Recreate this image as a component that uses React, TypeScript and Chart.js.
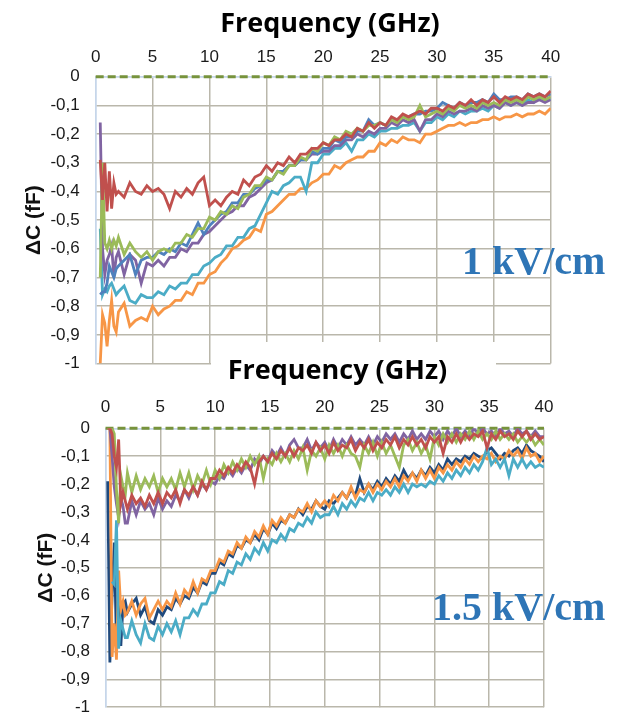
import { useEffect, useRef } from "react";
import { Chart, registerables } from "chart.js";

Chart.register(...registerables);

// ---------- DATA ----------
const FREQ_TOP = [
  0.4, 0.6, 0.8, 1.0, 1.2, 1.4, 1.6, 1.8,
  2, 2.5, 3, 3.5, 4, 4.5,
  5, 5.5, 6, 6.5, 7, 7.5, 8, 8.5, 9, 9.5,
  10, 10.5, 11, 11.5, 12, 12.5, 13, 13.5, 14, 14.5,
  15, 15.5, 16, 16.5, 17, 17.5, 18, 18.5, 19, 19.5,
  20, 20.5, 21, 21.5, 22, 22.5, 23, 23.5, 24, 24.5,
  25, 25.5, 26, 26.5, 27, 27.5, 28, 28.5, 29, 29.5,
  30, 30.5, 31, 31.5, 32, 32.5, 33, 33.5, 34, 34.5,
  35, 35.5, 36, 36.5, 37, 37.5, 38, 38.5, 39, 39.5,
  40,
];

const RED_TOP = [
  -0.29, -0.43, -0.30, -0.47, -0.33, -0.46, -0.37, -0.41,
  -0.40, -0.42, -0.37, -0.40, -0.41, -0.38,
  -0.40, -0.39, -0.41, -0.46, -0.40, -0.42, -0.39, -0.41, -0.37, -0.35,
  -0.45, -0.43, -0.45, -0.42, -0.40, -0.41, -0.36, -0.38, -0.35, -0.34,
  -0.31, -0.33, -0.30, -0.31, -0.28, -0.30, -0.27, -0.27, -0.25, -0.25,
  -0.23, -0.24, -0.22, -0.22, -0.20, -0.21, -0.18, -0.19, -0.16, -0.18,
  -0.16, -0.17, -0.14, -0.15, -0.13, -0.14, -0.13, -0.12, -0.13, -0.11,
  -0.11, -0.12, -0.10, -0.11, -0.09, -0.10, -0.08, -0.10, -0.08, -0.09,
  -0.07, -0.09, -0.07, -0.08, -0.07, -0.08, -0.06, -0.07, -0.06, -0.07,
  -0.05,
];

const GREEN_TOP = [
  -0.70, -0.30, -0.58, -0.60, -0.57, -0.60, -0.57, -0.59,
  -0.56, -0.62, -0.58, -0.61, -0.63, -0.61,
  -0.64, -0.61, -0.60, -0.61, -0.58, -0.58, -0.55, -0.56, -0.53, -0.53,
  -0.49, -0.50, -0.47, -0.48, -0.45, -0.46, -0.42, -0.41, -0.38, -0.38,
  -0.35, -0.36, -0.33, -0.34, -0.31, -0.31, -0.28, -0.29, -0.25, -0.26,
  -0.23, -0.24, -0.21, -0.22, -0.19, -0.20, -0.18, -0.19, -0.17, -0.17,
  -0.16, -0.17, -0.15, -0.16, -0.14, -0.15, -0.14, -0.10, -0.14, -0.13,
  -0.12, -0.13, -0.11, -0.12, -0.10, -0.11, -0.10, -0.11, -0.09, -0.10,
  -0.09, -0.10, -0.08, -0.09, -0.08, -0.09, -0.07, -0.08, -0.07, -0.08,
  -0.07,
];

const BLUE_TOP = [
  -0.76, -0.75, -0.75, -0.72, -0.66, -0.68, -0.70, -0.67,
  -0.66, -0.64, -0.62, -0.69, -0.64, -0.63,
  -0.63, -0.61, -0.62, -0.60, -0.61, -0.58, -0.59, -0.55, -0.51, -0.55,
  -0.52, -0.50, -0.48, -0.47, -0.44, -0.44, -0.41, -0.41, -0.39, -0.38,
  -0.36, -0.36, -0.33, -0.33, -0.31, -0.31, -0.29, -0.29, -0.26, -0.27,
  -0.25, -0.25, -0.22, -0.23, -0.21, -0.21, -0.19, -0.19, -0.15, -0.17,
  -0.16, -0.17, -0.15, -0.15, -0.14, -0.14, -0.13, -0.13, -0.12, -0.12,
  -0.11, -0.09, -0.10, -0.11, -0.09, -0.10, -0.09, -0.09, -0.08, -0.09,
  -0.06, -0.08, -0.08, -0.07, -0.07, -0.08, -0.06, -0.07, -0.06, -0.07,
  -0.06,
];

const PURPLE_TOP = [
  -0.16, -0.60, -0.69, -0.64, -0.62, -0.59, -0.70, -0.63,
  -0.61, -0.69, -0.62, -0.64, -0.72, -0.65,
  -0.66, -0.64, -0.66, -0.63, -0.63, -0.60, -0.61, -0.58, -0.58, -0.55,
  -0.54, -0.52, -0.50, -0.48, -0.47, -0.45, -0.45, -0.42, -0.41, -0.39,
  -0.37, -0.36, -0.33, -0.33, -0.31, -0.31, -0.29, -0.29, -0.27, -0.27,
  -0.26, -0.26, -0.24, -0.24, -0.22, -0.22, -0.20, -0.21, -0.19, -0.20,
  -0.18, -0.18, -0.16, -0.17, -0.15, -0.16, -0.15, -0.19, -0.15, -0.15,
  -0.13, -0.14, -0.12, -0.13, -0.12, -0.12, -0.11, -0.12, -0.10, -0.11,
  -0.10, -0.11, -0.09, -0.10, -0.09, -0.10, -0.09, -0.09, -0.08, -0.09,
  -0.08,
];

const CYAN_TOP = [
  -0.53, -0.76, -0.74, -0.75, -0.73, -0.72, -0.74, -0.76,
  -0.75, -0.73, -0.78, -0.79, -0.76, -0.77,
  -0.77, -0.75, -0.76, -0.73, -0.74, -0.72, -0.72, -0.69, -0.69, -0.66,
  -0.65, -0.63, -0.62, -0.59, -0.59, -0.56, -0.56, -0.53, -0.52, -0.48,
  -0.44, -0.40, -0.41, -0.38, -0.37, -0.35, -0.35, -0.40, -0.30, -0.30,
  -0.27, -0.27, -0.25, -0.25, -0.23, -0.26, -0.22, -0.22, -0.20, -0.21,
  -0.19, -0.19, -0.18, -0.18, -0.17, -0.17, -0.16, -0.19, -0.16, -0.16,
  -0.14, -0.15, -0.13, -0.14, -0.12, -0.13, -0.12, -0.12, -0.11, -0.12,
  -0.10, -0.11, -0.09, -0.10, -0.09, -0.10, -0.08, -0.09, -0.07, -0.08,
  -0.08,
];

const ORANGE_TOP = [
  -1.00, -0.83, -0.86, -0.94, -0.85, -0.78, -0.87, -0.89,
  -0.82, -0.79, -0.87, -0.85, -0.84, -0.85,
  -0.80, -0.83, -0.81, -0.80, -0.78, -0.78, -0.75, -0.76, -0.72, -0.72,
  -0.69, -0.68, -0.65, -0.63, -0.60, -0.59, -0.57, -0.56, -0.53, -0.54,
  -0.48, -0.47, -0.45, -0.43, -0.41, -0.41, -0.39, -0.39, -0.37, -0.36,
  -0.34, -0.34, -0.31, -0.32, -0.30, -0.29, -0.28, -0.28, -0.26, -0.26,
  -0.23, -0.24, -0.22, -0.23, -0.21, -0.22, -0.22, -0.23, -0.20, -0.20,
  -0.19, -0.18, -0.17, -0.17, -0.16, -0.17, -0.16, -0.16, -0.15, -0.15,
  -0.14, -0.15, -0.14, -0.14, -0.13, -0.14, -0.13, -0.13, -0.12, -0.13,
  -0.11,
];

const FREQ_BOT = [
  0.2, 0.4, 0.6, 0.8, 1.0, 1.2, 1.4, 1.6, 1.8,
  2.0, 2.4, 2.8, 3.2, 3.6, 4.0, 4.4, 4.8, 5.2, 5.6,
  6.0, 6.4, 6.8, 7.2, 7.6, 8.0, 8.4, 8.8, 9.2, 9.6,
  10.0, 10.4, 10.8, 11.2, 11.6, 12.0, 12.4, 12.8, 13.2, 13.6,
  14.0, 14.4, 14.8, 15.2, 15.6, 16.0, 16.4, 16.8, 17.2, 17.6,
  18.0, 18.4, 18.8, 19.2, 19.6, 20.0, 20.4, 20.8, 21.2, 21.6,
  22.0, 22.4, 22.8, 23.2, 23.6, 24.0, 24.4, 24.8, 25.2, 25.6,
  26.0, 26.4, 26.8, 27.2, 27.6, 28.0, 28.4, 28.8, 29.2, 29.6,
  30.0, 30.4, 30.8, 31.2, 31.6, 32.0, 32.4, 32.8, 33.2, 33.6,
  34.0, 34.4, 34.8, 35.2, 35.6, 36.0, 36.4, 36.8, 37.2, 37.6,
  38.0, 38.4, 38.8, 39.2, 39.6, 40.0,
];

const RED_BOT = [
  0, 0, -0.02, -0.10, -0.14, -0.04, -0.27, -0.23, -0.26,
  -0.29, -0.24, -0.27, -0.25, -0.28, -0.24, -0.27, -0.23, -0.27, -0.23,
  -0.25, -0.22, -0.27, -0.22, -0.24, -0.21, -0.24, -0.19, -0.22, -0.18,
  -0.18, -0.15, -0.17, -0.14, -0.16, -0.13, -0.15, -0.12, -0.14, -0.20,
  -0.12, -0.10, -0.12, -0.09, -0.11, -0.08, -0.10, -0.07, -0.10, -0.07,
  -0.08, -0.06, -0.09, -0.05, -0.08, -0.06, -0.09, -0.05, -0.08, -0.06,
  -0.07, -0.04, -0.08, -0.05, -0.07, -0.04, -0.08, -0.05, -0.07, -0.04,
  -0.06, -0.03, -0.07, -0.04, -0.06, -0.03, -0.06, -0.04, -0.07, -0.03,
  -0.05, -0.03, -0.09, -0.03, -0.05, -0.02, -0.05, -0.02, -0.04, -0.02,
  -0.03, -0.01, -0.07, -0.02, -0.04, -0.01, -0.03, -0.02, -0.04, -0.01,
  -0.03, -0.01, -0.04, -0.02, -0.04, -0.03,
];

const GREEN_BOT = [
  0, 0, 0, -0.02, -0.22, -0.34, -0.17, -0.21, -0.24,
  -0.16, -0.23, -0.17, -0.22, -0.18, -0.21, -0.17, -0.23, -0.18, -0.21,
  -0.18, -0.22, -0.16, -0.21, -0.16, -0.22, -0.17, -0.20, -0.15, -0.20,
  -0.15, -0.18, -0.13, -0.16, -0.12, -0.15, -0.11, -0.14, -0.10, -0.13,
  -0.10, -0.18, -0.11, -0.13, -0.09, -0.12, -0.09, -0.12, -0.08, -0.11,
  -0.07, -0.15, -0.08, -0.10, -0.07, -0.11, -0.06, -0.09, -0.06, -0.10,
  -0.06, -0.09, -0.10, -0.14, -0.06, -0.09, -0.05, -0.10, -0.05, -0.09,
  -0.06, -0.10, -0.14, -0.06, -0.04, -0.08, -0.05, -0.09, -0.06, -0.11,
  -0.03, -0.06, -0.02, -0.05, -0.02, -0.05, -0.02, -0.04, -0.01, -0.04,
  -0.01, -0.04, -0.02, -0.04, -0.01, -0.04, -0.02, -0.04, -0.02, -0.05,
  -0.03, -0.05, -0.03, -0.06, -0.04, -0.06,
];

const PURPLE_BOT = [
  0, 0, -0.10, -0.21, -0.27, -0.32, -0.25, -0.28, -0.34,
  -0.34, -0.26, -0.31, -0.26, -0.29, -0.27, -0.31, -0.25, -0.29, -0.26,
  -0.28, -0.24, -0.26, -0.22, -0.25, -0.21, -0.24, -0.20, -0.22, -0.19,
  -0.20, -0.17, -0.18, -0.15, -0.17, -0.14, -0.16, -0.13, -0.15, -0.11,
  -0.13, -0.10, -0.12, -0.08, -0.10, -0.07, -0.10, -0.06, -0.04, -0.07,
  -0.07, -0.04, -0.08, -0.05, -0.07, -0.05, -0.08, -0.04, -0.07, -0.04,
  -0.06, -0.03, -0.06, -0.04, -0.06, -0.03, -0.06, -0.03, -0.05, -0.02,
  -0.04, -0.02, -0.05, -0.02, -0.04, -0.01, -0.04, -0.02, -0.04, -0.01,
  -0.03, -0.01, -0.04, -0.01, -0.03, 0.00, -0.03, -0.01, -0.03, 0.00,
  -0.02, 0.00, -0.02, -0.01, -0.03, 0.00, -0.02, -0.01, -0.03, 0.00,
  -0.02, -0.01, -0.03, -0.01, -0.03, -0.03,
];

const CYAN_BOT = [
  null, null, -0.55, -0.56, -0.33, -0.79, -0.69, -0.72, -0.75,
  -0.75, -0.69, -0.74, -0.77, -0.70, -0.75, -0.76, -0.71, -0.74, -0.70,
  -0.73, -0.69, -0.74, -0.68, -0.68, -0.65, -0.67, -0.63, -0.63, -0.59,
  -0.59, -0.55, -0.56, -0.51, -0.52, -0.48, -0.49, -0.45, -0.47, -0.43,
  -0.45, -0.41, -0.44, -0.40, -0.41, -0.38, -0.40, -0.36, -0.37, -0.34,
  -0.35, -0.32, -0.34, -0.30, -0.32, -0.31, -0.31, -0.28, -0.31, -0.27,
  -0.29, -0.26, -0.28, -0.25, -0.26, -0.23, -0.26, -0.23, -0.24, -0.22,
  -0.24, -0.21, -0.23, -0.20, -0.23, -0.20, -0.21, -0.20, -0.21, -0.19,
  -0.20, -0.17, -0.19, -0.16, -0.18, -0.15, -0.17, -0.14, -0.16, -0.13,
  -0.15, -0.12, -0.07, -0.13, -0.11, -0.14, -0.11, -0.17, -0.11, -0.14,
  -0.11, -0.14, -0.12, -0.14, -0.13, -0.14,
];

const ORANGE_BOT = [
  0, 0, -0.82, -0.70, -0.83, -0.51, -0.65, -0.62, -0.67,
  -0.66, -0.62, -0.67, -0.63, -0.61, -0.68, -0.65, -0.62, -0.65, -0.62,
  -0.64, -0.59, -0.63, -0.58, -0.60, -0.55, -0.59, -0.54, -0.55, -0.51,
  -0.51, -0.47, -0.48, -0.44, -0.45, -0.41, -0.43, -0.39, -0.41, -0.37,
  -0.39, -0.35, -0.38, -0.33, -0.35, -0.32, -0.34, -0.31, -0.32, -0.29,
  -0.30, -0.27, -0.30, -0.26, -0.28, -0.26, -0.28, -0.24, -0.26, -0.23,
  -0.25, -0.21, -0.25, -0.22, -0.23, -0.20, -0.23, -0.20, -0.22, -0.19,
  -0.21, -0.18, -0.21, -0.17, -0.19, -0.16, -0.19, -0.15, -0.18, -0.15,
  -0.18, -0.14, -0.16, -0.13, -0.15, -0.12, -0.14, -0.11, -0.13, -0.10,
  -0.12, -0.10, -0.11, -0.09, -0.12, -0.10, -0.11, -0.08, -0.10, -0.08,
  -0.11, -0.07, -0.10, -0.09, -0.12, -0.10,
];

const NAVY_BOT = [
  -0.19, -0.84, -0.60, -0.41, -0.77, -0.60, -0.78, -0.63, -0.62,
  -0.66, -0.63, -0.61, -0.67, -0.64, -0.69, -0.70, -0.65, -0.67, -0.64,
  -0.65, -0.61, -0.63, -0.60, -0.61, -0.57, -0.59, -0.55, -0.56, -0.52,
  -0.52, -0.48, -0.49, -0.45, -0.46, -0.42, -0.43, -0.40, -0.41, -0.38,
  -0.40, -0.36, -0.38, -0.34, -0.36, -0.33, -0.34, -0.31, -0.32, -0.29,
  -0.31, -0.28, -0.29, -0.26, -0.28, -0.29, -0.26, -0.27, -0.25, -0.23,
  -0.25, -0.22, -0.24, -0.18, -0.23, -0.20, -0.22, -0.19, -0.21, -0.18,
  -0.20, -0.17, -0.19, -0.15, -0.18, -0.16, -0.18, -0.15, -0.17, -0.14,
  -0.16, -0.13, -0.15, -0.11, -0.13, -0.11, -0.12, -0.10, -0.11, -0.09,
  -0.10, -0.11, -0.08, -0.07, -0.09, -0.11, -0.09, -0.10, -0.08, -0.07,
  -0.09, -0.06, -0.08, -0.09, -0.10, -0.12,
];

const ZERO_X = [0, 40];
const ZERO_Y = [0, 0];

const X_TITLE = "Frequency (GHz)";
const Y_TITLE = "\u0394C (fF)";
const TOP_LABEL = "1 kV/cm";
const BOT_LABEL = "1.5 kV/cm";

// ---------- STYLE ----------
const C = {
  red: "#c0504d",
  green: "#9bbb59",
  blue: "#4f81bd",
  purple: "#8064a2",
  cyan: "#4bacc6",
  orange: "#f79646",
  navy: "#1f497d",
  zero: "#77933c",
  grid: "#bab7ab",
  edge: "#c6d6ea",
  text: "#1a1a1a",
};
const SANS = "'Liberation Sans', Arial, sans-serif";

function fmt(v: number) {
  const r = Math.round(v * 10) / 10;
  if (r === 0) return "0";
  if (r === -1) return "-1";
  return r.toFixed(1).replace(".", ",");
}

function pts(freq: number[], vals: (number | null)[]) {
  return freq.map((f, i) => ({ x: f, y: vals[i] }));
}

const panelTitle = {
  id: "panelTitle",
  beforeDraw(chart: any, _a: any, opts: any) {
    if (opts.box) {
      const ctx = chart.ctx;
      ctx.save();
      ctx.fillStyle = "#ffffff";
      const [x0, y0, x1, y1] = opts.box;
      ctx.fillRect(x0, y0, x1 - x0, y1 - y0);
      ctx.restore();
    }
  },
  afterDraw(chart: any, _a: any, opts: any) {
    const ctx = chart.ctx;
    ctx.save();
    ctx.font = "bold 27px 'Open Sans'";
    ctx.fillStyle = "#000";
    ctx.textAlign = "center";
    ctx.textBaseline = "middle";
    ctx.fillText(opts.text, opts.x, opts.y);
    ctx.restore();
  },
};

type Panel = {
  W: number;
  H: number;
  left: number;
  right: number;
  top: number;
  bottom: number;
  tickY: number;
  yGap: number;
  yTitleX: number;
  titleX: number;
  titleY: number;
  box?: number[];
  series: { color: string; data: any[] }[];
};

function build(canvas: HTMLCanvasElement, p: Panel) {
  const datasets: any[] = p.series.map((s) => ({
    data: s.data,
    borderColor: s.color,
    borderWidth: 2.8,
    pointRadius: 0,
    tension: 0,
    fill: false,
  }));
  datasets.push({
    data: pts(ZERO_X, ZERO_Y),
    borderColor: C.zero,
    borderWidth: 3,
    borderDash: [8, 4],
    pointRadius: 0,
    fill: false,
    clip: 4,
  });
  return new Chart(canvas, {
    type: "line",
    data: { datasets },
    plugins: [panelTitle as any],
    options: {
      responsive: false,
      animation: false,
      devicePixelRatio: 1,
      layout: {
        padding: { left: 0, top: 0, right: p.W - p.right, bottom: p.H - p.bottom },
      },
      plugins: {
        legend: { display: false },
        tooltip: { enabled: false },
        panelTitle: { text: X_TITLE, x: p.titleX, y: p.titleY, box: p.box },
      } as any,
      scales: {
        x: {
          type: "linear",
          position: "top",
          min: 0,
          max: 40,
          afterFit: (s: any) => {
            s.height = p.top;
            s.paddingLeft = 0;
            s.paddingRight = 0;
          },
          ticks: {
            stepSize: 5,
            autoSkip: false,
            maxRotation: 0,
            padding: p.top - p.tickY - 10.2,
            color: C.text,
            font: { family: SANS, size: 17 },
          },
          grid: {
            drawTicks: false,
            lineWidth: 1.5,
            color: (ctx: any) => (ctx.tick && ctx.tick.value === 0 ? C.edge : C.grid),
          },
          border: { display: true, color: C.edge, width: 1.5 },
        },
        y: {
          type: "linear",
          min: -1,
          max: 0,
          afterFit: (s: any) => {
            s.width = p.left;
            s.paddingTop = 0;
            s.paddingBottom = 0;
          },
          ticks: {
            stepSize: 0.1,
            padding: p.yGap,
            color: C.text,
            font: { family: SANS, size: 17 },
            callback: (v: any) => fmt(Number(v)),
          },
          grid: {
            drawTicks: false,
            lineWidth: 1.5,
            color: (ctx: any) => (ctx.tick && Math.abs(ctx.tick.value) < 1e-6 ? C.edge : C.grid),
          },
          border: { display: true, color: C.edge, width: 1.5 },
          title: {
            display: true,
            text: Y_TITLE,
            color: "#111",
            font: { family: SANS, size: 21, weight: "bold" },
            padding: { top: p.yTitleX - 12.6, bottom: 0 },
          },
        },
      },
    } as any,
  });
}

export default function App() {
  const topRef = useRef<HTMLCanvasElement>(null);
  const botRef = useRef<HTMLCanvasElement>(null);

  useEffect(() => {
    const top = build(topRef.current!, {
      W: 634,
      H: 372,
      left: 95.7,
      right: 550.7,
      top: 76.7,
      bottom: 363.5,
      tickY: 57,
      yGap: 16,
      yTitleX: 34,
      titleX: 330,
      titleY: 24,
      series: [
        { color: C.red, data: pts(FREQ_TOP, RED_TOP) },
        { color: C.green, data: pts(FREQ_TOP, GREEN_TOP) },
        { color: C.blue, data: pts(FREQ_TOP, BLUE_TOP) },
        { color: C.purple, data: pts(FREQ_TOP, PURPLE_TOP) },
        { color: C.cyan, data: pts(FREQ_TOP, CYAN_TOP) },
        { color: C.orange, data: pts(FREQ_TOP, ORANGE_TOP) },
      ],
    });
    const bot = build(botRef.current!, {
      W: 634,
      H: 370,
      left: 105.5,
      right: 544,
      top: 86.3,
      bottom: 365.2,
      tickY: 65,
      yGap: 15.5,
      yTitleX: 46,
      titleX: 337.5,
      titleY: 29,
      box: [211, 0, 496, 54],
      series: [
        { color: C.red, data: pts(FREQ_BOT, RED_BOT) },
        { color: C.green, data: pts(FREQ_BOT, GREEN_BOT) },
        { color: C.purple, data: pts(FREQ_BOT, PURPLE_BOT) },
        { color: C.cyan, data: pts(FREQ_BOT, CYAN_BOT) },
        { color: C.orange, data: pts(FREQ_BOT, ORANGE_BOT) },
        { color: C.navy, data: pts(FREQ_BOT, NAVY_BOT) },
      ],
    });
    return () => {
      top.destroy();
      bot.destroy();
    };
  }, []);

  const label: any = {
    position: "absolute",
    font: "bold 40px 'Liberation Serif', 'Times New Roman', serif",
    lineHeight: "40px",
    color: "#2e75b6",
    whiteSpace: "nowrap",
  };

  return (
    <div
      style={{
        position: "absolute",
        left: 0,
        top: 0,
        width: 634,
        height: 712,
        background: "#fff",
        overflow: "hidden",
      }}
    >
      <canvas
        ref={topRef}
        width={634}
        height={372}
        style={{ position: "absolute", left: 0, top: 0, width: 634, height: 372 }}
      />
      <canvas
        ref={botRef}
        width={634}
        height={370}
        style={{ position: "absolute", left: 0, top: 342, width: 634, height: 370 }}
      />
      <div style={{ ...label, left: 462, top: 240.5 }}>{TOP_LABEL}</div>
      <div style={{ ...label, left: 432, top: 587 }}>{BOT_LABEL}</div>
    </div>
  );
}
